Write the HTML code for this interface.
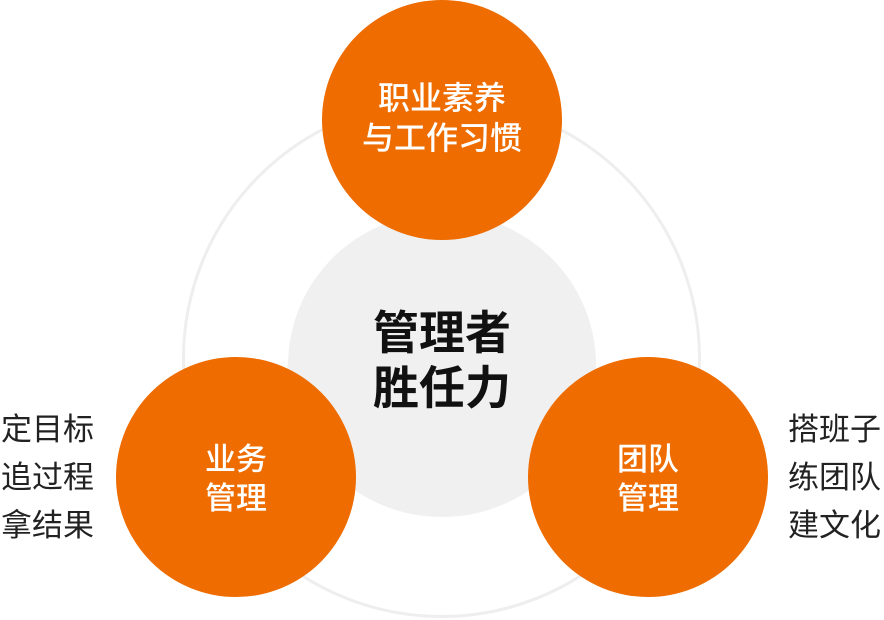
<!DOCTYPE html>
<html><head><meta charset="utf-8"><style>
html,body{margin:0;padding:0;background:#fff;}
body{width:884px;height:620px;position:relative;overflow:hidden;font-family:"Liberation Sans","Noto Sans CJK SC",sans-serif;}
.c{position:absolute;border-radius:50%;}
.t{position:absolute;text-align:center;white-space:nowrap;}
</style></head><body>
<div class="c" style="left:182px;top:99px;width:519px;height:519px;border:3px solid #eeeeee;box-sizing:border-box;"></div>
<div class="c" style="left:288px;top:213px;width:308px;height:304px;background:#f0f0f0;"></div>
<div class="c" style="left:322px;top:0px;width:240px;height:240px;background:#ee6c00;"></div>
<div class="c" style="left:116px;top:357px;width:240px;height:240px;background:#ee6c00;"></div>
<div class="c" style="left:528px;top:357px;width:240px;height:240px;background:#ee6c00;"></div>
<div class="t" style="left:292px;width:300px;top:78px;color:#fff;font-size:32px;line-height:40px;font-weight:500;">职业素养<br>与工作习惯</div>
<div class="t" style="left:292px;width:300px;top:306px;color:#111;font-size:46px;line-height:55px;font-weight:bold;">管理者<br>胜任力</div>
<div class="t" style="left:116px;width:240px;top:440px;color:#fff;font-size:31px;line-height:39px;font-weight:500;">业务<br>管理</div>
<div class="t" style="left:528px;width:240px;top:440px;color:#fff;font-size:31px;line-height:39px;font-weight:500;">团队<br>管理</div>
<div class="t" style="left:1px;top:406px;text-align:left;color:#222;font-size:31px;line-height:48px;">定目标<br>追过程<br>拿结果</div>
<div class="t" style="left:788px;top:406px;text-align:left;color:#222;font-size:31px;line-height:48px;">搭班子<br>练团队<br>建文化</div>
</body></html>
